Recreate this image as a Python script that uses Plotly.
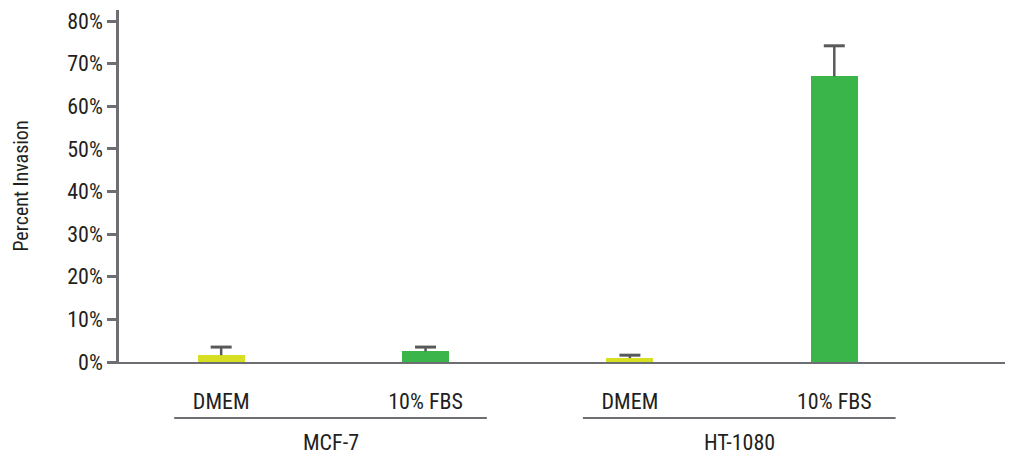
import plotly.graph_objects as go

# Data
groups = ["MCF-7", "MCF-7", "HT-1080", "HT-1080"]
conditions = ["DMEM", "10% FBS", "DMEM", "10% FBS"]
invasion = [1.6, 2.5, 0.9, 67.0]          # percent
err_up = [1.9, 1.0, 0.7, 7.2]             # percent (upper error only)
bar_colors = ["#d7df23", "#39b54a", "#d7df23", "#39b54a"]
y_ticks = [0, 10, 20, 30, 40, 50, 60, 70, 80]
y_ticktext = [f"{v}%" for v in y_ticks]

FONT = "Liberation Sans Narrow, Roboto Condensed, Arial Narrow, sans-serif"
TXT = "#231f20"
AXC = "#6d6e71"
ERRC = "#58595b"

xpos = list(range(len(conditions)))

fig = go.Figure()
fig.add_trace(go.Bar(
    x=xpos, y=invasion, width=0.23,
    marker=dict(color=bar_colors, line=dict(width=0)),
    showlegend=False, hoverinfo="y",
))

# one-sided error bars: stems + caps
stem_x, stem_y = [], []
for x, v, e in zip(xpos, invasion, err_up):
    stem_x += [x, x, None]
    stem_y += [v, v + e, None]
fig.add_trace(go.Scatter(
    x=stem_x, y=stem_y, mode="lines",
    line=dict(color=ERRC, width=2.5), showlegend=False, hoverinfo="skip",
))
fig.add_trace(go.Scatter(
    x=xpos, y=[v + e for v, e in zip(invasion, err_up)], mode="markers",
    marker=dict(symbol="line-ew", size=15, line=dict(color=ERRC, width=3)),
    showlegend=False, hoverinfo="skip",
))

# group annotations & lines
uniq = []
for g in groups:
    if g not in uniq:
        uniq.append(g)
shapes, annotations = [], []
for g in uniq:
    idx = [i for i, gg in enumerate(groups) if gg == g]
    x0, x1 = min(idx) - 0.23, max(idx) + 0.30
    shapes.append(dict(type="line", xref="x", yref="paper", x0=x0, x1=x1,
                       y0=-0.159, y1=-0.159, line=dict(color=AXC, width=2)))
    annotations.append(dict(x=(x0 + x1) / 2, y=-0.23, xref="x", yref="paper",
                            text=g, showarrow=False, yanchor="middle",
                            font=dict(family=FONT, size=22, color=TXT)))

# page body has an 8px margin; size/margins compensate for it
fig.update_layout(
    width=1005, height=447,
    margin=dict(l=111, r=5, t=2, b=93),
    paper_bgcolor="white", plot_bgcolor="white",
    shapes=shapes, annotations=annotations,
    bargap=0,
)
fig.update_xaxes(
    range=[-0.5, 3.85], tickvals=xpos, ticktext=conditions,
    showline=True, linecolor=AXC, linewidth=2, ticks="",
    showgrid=False, zeroline=False, ticklabelstandoff=19,
    tickfont=dict(family=FONT, size=22, color=TXT), automargin=False,
)
fig.update_yaxes(
    range=[0, 82.6], tickvals=y_ticks, ticktext=y_ticktext,
    showline=True, linecolor=AXC, linewidth=2.5,
    ticks="outside", ticklen=9, tickwidth=2.5, tickcolor=AXC,
    showgrid=False, zeroline=False, automargin=False,
    ticklabeloverflow="allow",
    tickfont=dict(family=FONT, size=22, color=TXT),
    title=dict(text="Percent Invasion", standoff=34,
               font=dict(family=FONT, size=20, color=TXT)),
)

fig.write_html("out.html")
